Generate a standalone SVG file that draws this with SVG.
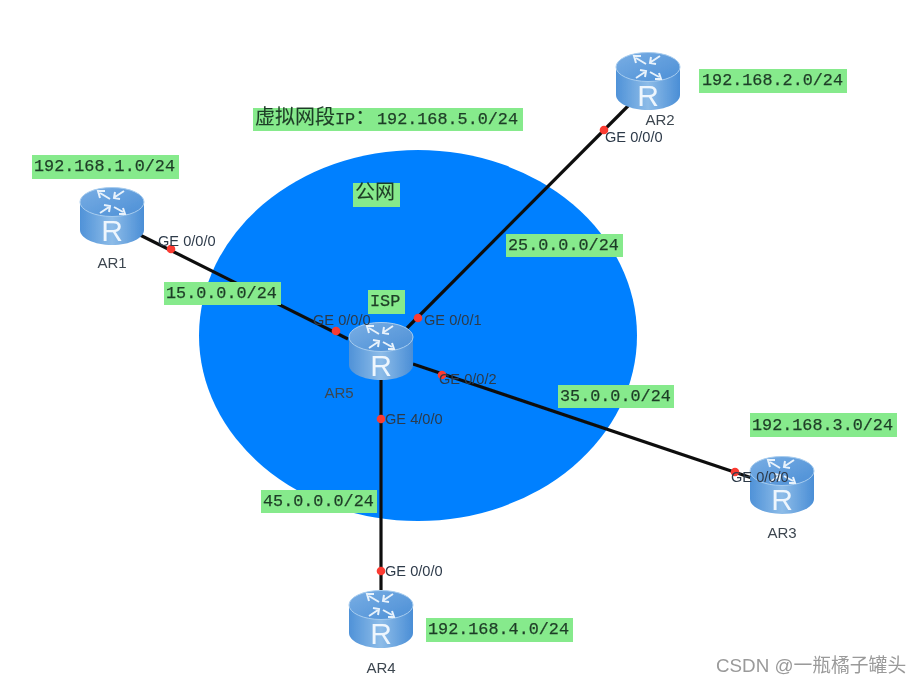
<svg xmlns="http://www.w3.org/2000/svg" width="922" height="685" viewBox="0 0 922 685">
<style>
.lbl{fill:#86ea8c}
.t{font-family:"Liberation Mono","Noto Sans CJK SC",monospace;font-size:16.8px;fill:#1f3d27;stroke:#1f3d27;stroke-width:.25}
.c{font-size:20px;stroke-width:.1}
.p{font-family:"Liberation Sans",Arial,sans-serif;font-size:14.6px;fill:#2d3a4a}
.n{font-family:"Liberation Sans",Arial,sans-serif;font-size:15px;fill:#3d4650}
.w{stroke:#111;stroke-width:3.2;fill:none}
.d{fill:#fb3a30}
.arrow{stroke:#e8f2fb;stroke-width:2;fill:none}
</style>
<defs>
<filter id="soft" x="0" y="0" width="100%" height="100%"><feGaussianBlur stdDeviation="0.55"/></filter>
<linearGradient id="side" x1="0" x2="1" y1="0" y2="0"><stop offset="0" stop-color="#4f92d8"/><stop offset=".5" stop-color="#8dbce8"/><stop offset="1" stop-color="#4a8ed6"/></linearGradient>
<linearGradient id="top" x1="0" x2="1" y1="0" y2="1"><stop offset="0" stop-color="#79aee4"/><stop offset="1" stop-color="#4c8fd6"/></linearGradient>
<g id="router">
<path d="M-32-14V14C-32 22-18 29 0 29S32 22 32 14V-14Z" fill="url(#side)"/>
<ellipse cx="0" cy="-14" rx="32" ry="14.500" fill="url(#top)" stroke="#a8cdef" stroke-width="1"/>
<path class="arrow" d="M-2-17-12-23M-12-18-14-25-7-25M12-25 3-19M3-24 2-18 8-17M-12-3-3-9M-8-11-2-10-3-4M2-9 11-4M11-8 13-2 7-2"/>
<text x="0" y="25" text-anchor="middle" font-family="Liberation Sans,Arial,sans-serif" font-size="30" fill="#eef6fd">R</text>
</g>
</defs>
<g filter="url(#soft)">
<rect width="922" height="685" fill="#fff"/>
<ellipse id="public-net" cx="418" cy="335.500" rx="219" ry="185.500" fill="#0080ff"/>
<g id="connectors">
<path class="w" d="M140 235 348 339"/>
<path class="w" d="M629 105 407 328"/>
<path class="w" d="M413 364 752 478"/>
<path class="w" d="M381 379V590"/>
</g>
<g id="ar1"><use href="#router" x="112" y="216"/><text class="n" x="112" y="268" text-anchor="middle">AR1</text></g>
<g id="ar2"><use href="#router" x="648" y="81"/><text class="n" x="660" y="125" text-anchor="middle">AR2</text></g>
<g id="ar3"><use href="#router" x="782" y="485"/><text class="n" x="782" y="538" text-anchor="middle">AR3</text></g>
<g id="ar4"><use href="#router" x="381" y="619"/><text class="n" x="381" y="673" text-anchor="middle">AR4</text></g>
<g id="ar5"><use href="#router" x="381" y="351"/><text class="n" x="339" y="398" text-anchor="middle">AR5</text></g>
<g id="ports">
<circle class="d" cx="171" cy="249" r="4.300"/><text class="p" x="158" y="246">GE 0/0/0</text>
<circle class="d" cx="604" cy="130" r="4.300"/><text class="p" x="605" y="142">GE 0/0/0</text>
<circle class="d" cx="336" cy="331" r="4.300"/><text class="p" x="313" y="325">GE 0/0/0</text>
<circle class="d" cx="418" cy="318" r="4.300"/><text class="p" x="424" y="325">GE 0/0/1</text>
<circle class="d" cx="442" cy="375" r="4.300"/><text class="p" x="439" y="384">GE 0/0/2</text>
<circle class="d" cx="381" cy="419" r="4.300"/><text class="p" x="385" y="424">GE 4/0/0</text>
<circle class="d" cx="735" cy="472" r="4.300"/><text class="p" x="731" y="482">GE 0/0/0</text>
<circle class="d" cx="381" cy="571" r="4.300"/><text class="p" x="385" y="576">GE 0/0/0</text>
</g>
<g id="labels">
<g id="l-net1"><rect class="lbl" x="32" y="155" width="147" height="24"/><text class="t" x="34" y="171">192.168.1.0/24</text></g>
<g id="l-net2"><rect class="lbl" x="699" y="69" width="148" height="24"/><text class="t" x="702" y="85">192.168.2.0/24</text></g>
<g id="l-net3"><rect class="lbl" x="750" y="413" width="147" height="24"/><text class="t" x="752" y="430">192.168.3.0/24</text></g>
<g id="l-net4"><rect class="lbl" x="426" y="618" width="147" height="24"/><text class="t" x="428" y="634">192.168.4.0/24</text></g>
<g id="l-virtual"><rect class="lbl" x="253" y="108" width="270" height="23"/><text class="t" x="255" y="124"><tspan class="c">虚拟网段</tspan>IP<tspan class="c">：</tspan><tspan x="377">192.168.5.0/24</tspan></text></g>
<g id="l-public"><rect class="lbl" x="353" y="183" width="47" height="24"/><text class="t c" x="355" y="199">公网</text></g>
<g id="l-isp"><rect class="lbl" x="368" y="290" width="37" height="24"/><text class="t" x="370" y="306">ISP</text></g>
<g id="l-15"><rect class="lbl" x="164" y="282" width="117" height="23"/><text class="t" x="166" y="298">15.0.0.0/24</text></g>
<g id="l-25"><rect class="lbl" x="506" y="234" width="117" height="23"/><text class="t" x="508" y="250">25.0.0.0/24</text></g>
<g id="l-35"><rect class="lbl" x="558" y="385" width="116" height="23"/><text class="t" x="560" y="401">35.0.0.0/24</text></g>
<g id="l-45"><rect class="lbl" x="261" y="490" width="116" height="23"/><text class="t" x="263" y="506">45.0.0.0/24</text></g>
</g>
<text id="watermark" x="716" y="672" font-family="Liberation Sans,Noto Sans CJK SC,sans-serif" font-size="18.800" fill="#9a9a9a">CSDN @一瓶橘子罐头</text>
</g>
</svg>
